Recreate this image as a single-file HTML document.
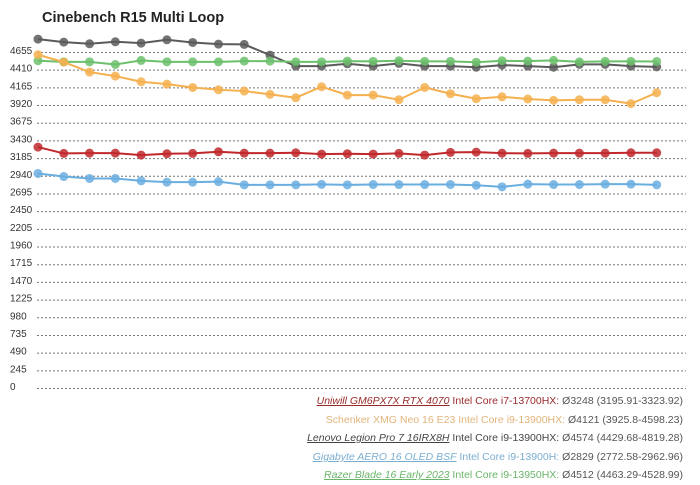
<!DOCTYPE html>
<html><head><meta charset="utf-8"><style>
body{margin:0;background:#fff;font-family:"Liberation Sans",sans-serif}
#wrap{position:relative;width:700px;height:485px;overflow:hidden}
.lg{position:absolute;right:17px;font-size:10.5px;white-space:nowrap;color:#555}
.lg u{font-style:italic}
</style></head><body>
<div id="wrap">
<svg id="svg" width="700" height="485" style="position:absolute;left:0;top:0">
<text x="42" y="22" font-size="14.5" font-weight="bold" fill="#222" font-family="Liberation Sans">Cinebench R15 Multi Loop</text>
</svg>
<div class="lg" style="top:395px;color:#9a2a2a"><u>Uniwill GM6PX7X RTX 4070</u> Intel Core i7-13700HX: <span style="color:#555">Ø3248 (3195.91-3323.92)</span></div>
<div class="lg" style="top:414px;color:#e2b47a">Schenker XMG Neo 16 E23 Intel Core i9-13900HX: <span style="color:#555">Ø4121 (3925.8-4598.23)</span></div>
<div class="lg" style="top:432px;color:#444"><u>Lenovo Legion Pro 7 16IRX8H</u> Intel Core i9-13900HX: <span style="color:#555">Ø4574 (4429.68-4819.28)</span></div>
<div class="lg" style="top:451px;color:#7aaed0"><u>Gigabyte AERO 16 OLED BSF</u> Intel Core i9-13900H: <span style="color:#555">Ø2829 (2772.58-2962.96)</span></div>
<div class="lg" style="top:469px;color:#6ab56a"><u>Razer Blade 16 Early 2023</u> Intel Core i9-13950HX: <span style="color:#555">Ø4512 (4463.29-4528.99)</span></div>
</div>
<script>
const yTicks=[0,245,490,735,980,1225,1470,1715,1960,2205,2450,2695,2940,3185,3430,3675,3920,4165,4410,4655];
const seriesNames=["lenovo","razer","schenker","uniwill","gigabyte"];
const seriesColors=["#5a5a5a","#6cc06c","#f5b04f","#c0282c","#6aaee0"];
const lenovo=[4820,4778,4755,4783,4764,4810,4773,4750,4746,4598,4446,4446,4478,4446,4483,4446,4446,4430,4460,4446,4430,4470,4470,4446,4435];
const razer=[4520,4505,4505,4468,4525,4505,4505,4505,4515,4515,4505,4505,4515,4512,4520,4512,4512,4500,4520,4515,4525,4505,4512,4512,4510];
const schenker=[4603,4501,4363,4307,4229,4196,4150,4118,4100,4054,4008,4160,4044,4044,3980,4150,4063,3994,4021,3990,3971,3980,3980,3926,4077];
const uniwill=[3324,3236,3240,3240,3213,3232,3236,3259,3240,3240,3245,3227,3232,3227,3236,3213,3250,3254,3240,3236,3240,3240,3240,3245,3245];
const gigabyte=[2958,2916,2889,2889,2856,2838,2838,2845,2801,2801,2801,2808,2801,2805,2805,2805,2805,2795,2773,2810,2805,2805,2810,2810,2801];
const data=[lenovo,razer,schenker,uniwill,gigabyte];
const NS="http://www.w3.org/2000/svg",svg=document.getElementById("svg");
const y=v=>387-v*(336/4655), x=i=>38+i*25.78;
yTicks.forEach(t=>{
 const l=document.createElementNS(NS,"line");
 
 
 l.setAttribute("x1",37);l.setAttribute("x2",686);l.setAttribute("y1",y(t)+1.5);l.setAttribute("y2",y(t)+1.5);
 l.setAttribute("stroke","#777");l.setAttribute("stroke-dasharray","2,2");l.setAttribute("stroke-width","1");
 svg.appendChild(l);
 const tx=document.createElementNS(NS,"text");
 
 
 tx.setAttribute("x",10);tx.setAttribute("y",y(t)+3);tx.setAttribute("font-size","10");tx.setAttribute("fill","#333");
 tx.textContent=t;svg.appendChild(tx);
});
data.forEach((s,k)=>{
 const p=document.createElementNS(NS,"polyline");
 
 
 p.setAttribute("points",s.map((v,i)=>x(i)+","+y(v)).join(" "));
 p.setAttribute("fill","none");p.setAttribute("stroke",seriesColors[k]);p.setAttribute("stroke-width","2");
 svg.appendChild(p);
 s.forEach((v,i)=>{
  const c=document.createElementNS(NS,"circle");
  
  
  c.setAttribute("cx",x(i));c.setAttribute("cy",y(v));c.setAttribute("r",4.5);
  c.setAttribute("fill",seriesColors[k]);c.setAttribute("fill-opacity","0.85");
  svg.appendChild(c);
 });
});
</script>
</body></html>
